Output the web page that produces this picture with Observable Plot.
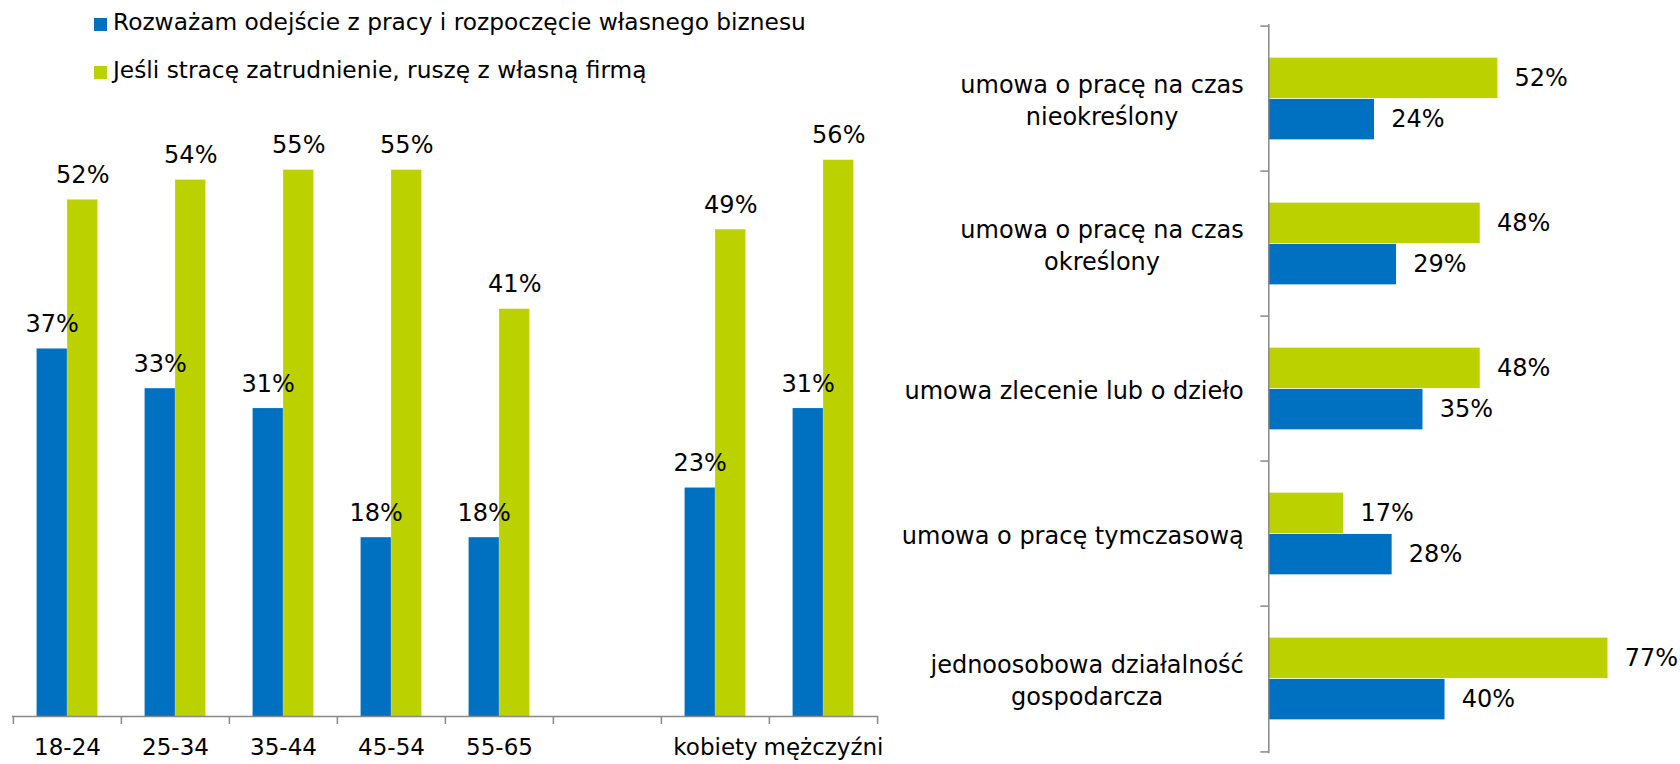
<!DOCTYPE html>
<html>
<head>
<meta charset="utf-8">
<script src="https://cdn.jsdelivr.net/npm/d3@7"></script>
<script src="https://cdn.jsdelivr.net/npm/@observablehq/plot@0.6"></script>
<style>
  html, body { margin: 0; padding: 0; background: #fff; }
  #wrap { position: relative; width: 1680px; height: 764px; overflow: hidden; font-family: "DejaVu Sans", sans-serif; }
  #left, #right { position: absolute; top: 0; }
  #left { left: 0; }
  #right { left: 880px; }
  .legend { position: absolute; left: 94px; font-size: 23.3px; color: #000; white-space: nowrap; }
  .legend .sw { display: inline-block; width: 13px; height: 13px; margin-right: 6px; vertical-align: -1px; }
</style>
</head>
<body>
<div id="wrap">
  <div id="left"></div>
  <div id="right"></div>
  <div class="legend" style="top:8px"><span class="sw" style="background:#0070C0"></span>Rozważam odejście z pracy i rozpoczęcie własnego biznesu</div>
  <div class="legend" style="top:56px"><span class="sw" style="background:#BBD100"></span>Jeśli stracę zatrudnienie, ruszę z własną firmą</div>
</div>
<script>
// ---- data ----
const seriesNames = ["Rozważam odejście z pracy i rozpoczęcie własnego biznesu", "Jeśli stracę zatrudnienie, ruszę z własną firmą"];
const ageCats = ["18-24", "25-34", "35-44", "45-54", "55-65", "", "kobiety", "mężczyźni"];
const ageBlue = [37, 33, 31, 18, 18, null, 23, 31];
const ageGreen = [52, 54, 55, 55, 41, null, 49, 56];
const contractCats = [
  "umowa o pracę na czas\nnieokreślony",
  "umowa o pracę na czas\nokreślony",
  "umowa zlecenie lub o dzieło",
  "umowa o pracę tymczasową",
  "jednoosobowa działalność\ngospodarcza"
];
const contractGreen = [52, 48, 48, 17, 77];
const contractBlue = [24, 29, 35, 28, 40];

const BLUE = "#0070C0", GREEN = "#BBD100", GREY = "#898989";
const FONT = "DejaVu Sans";

// ---- left chart ----
const L = {width: 880, height: 764, ml: 12, mr: 2, mt: 120, mb: 48};
const lbw = (L.width - L.ml - L.mr) / ageCats.length;
const barW = lbw * 0.282;
const pairOff = (lbw - 2 * barW) / 2;
const leftData = ageCats.map((c, i) => ({cat: c, blue: ageBlue[i], green: ageGreen[i]})).filter(d => d.blue != null);
const fmt = v => v + "%";

const left = Plot.plot({
  width: L.width, height: L.height,
  marginLeft: L.ml, marginRight: L.mr, marginTop: L.mt, marginBottom: L.mb,
  style: {fontFamily: FONT, fontSize: "24px", overflow: "visible", background: "transparent"},
  x: {domain: ageCats, padding: 0, axis: null, label: null},
  y: {domain: [0, 60], axis: null},
  marks: [
    Plot.barY(leftData, {x: "cat", y: "blue", fill: BLUE, insetLeft: pairOff, insetRight: lbw - pairOff - barW}),
    Plot.barY(leftData, {x: "cat", y: "green", fill: GREEN, insetLeft: lbw - pairOff - barW, insetRight: pairOff}),
    Plot.text(leftData, {x: "cat", y: "blue", text: d => fmt(d.blue), dx: -barW / 2, dy: -17, lineAnchor: "bottom", fontSize: 24, fill: "#000"}),
    Plot.text(leftData, {x: "cat", y: "green", text: d => fmt(d.green), dx: barW / 2, dy: -17, lineAnchor: "bottom", fontSize: 24, fill: "#000"}),
    Plot.ruleY([0], {stroke: GREY, strokeWidth: 1.5}),
    Plot.ruleX(ageCats, {x: d => d, dx: -lbw / 2, y1: 0, y2: 0, insetBottom: -8, stroke: GREY, strokeWidth: 1.5}),
    Plot.ruleX(ageCats.slice(-1), {x: d => d, dx: lbw / 2, y1: 0, y2: 0, insetBottom: -8, stroke: GREY, strokeWidth: 1.5}),
    Plot.axisX({domain: ageCats, label: null, tickSize: 0, tickPadding: 22, fontSize: 23, fill: "#000"})
  ]
});
document.getElementById("left").appendChild(left);

// ---- right chart ----
const R = {width: 800, height: 764, ml: 388.3, mr: 59.3, mt: 24, mb: 10.7};
const rbw = (R.height - R.mt - R.mb) / contractCats.length;
const barH = rbw * 0.283;
const rOff = (rbw - 2 * barH) / 2;
const rightData = contractCats.map((c, i) => ({cat: c, green: contractGreen[i], blue: contractBlue[i]}));

const ctx = document.createElement("canvas").getContext("2d");
ctx.font = `24px "${FONT}"`;
const labelMarks = contractCats.map(c => {
  const w = d3.max(c.split("\n"), s => ctx.measureText(s).width);
  return Plot.text([c], {x: () => 0, y: d => d, text: d => d, dx: -(25 + w / 2), textAnchor: "middle", lineHeight: 1.33, fontSize: 24, fill: "#000"});
});

const right = Plot.plot({
  width: R.width, height: R.height,
  marginLeft: R.ml, marginRight: R.mr, marginTop: R.mt, marginBottom: R.mb,
  style: {fontFamily: FONT, fontSize: "24px", overflow: "visible", background: "transparent"},
  y: {domain: contractCats, padding: 0, axis: null, label: null},
  x: {domain: [0, 80], axis: null, label: null},
  marks: [
    Plot.barX(rightData, {y: "cat", x: "green", fill: GREEN, insetTop: rOff, insetBottom: rbw - rOff - barH}),
    Plot.barX(rightData, {y: "cat", x: "blue", fill: BLUE, insetTop: rbw - rOff - barH, insetBottom: rOff}),
    Plot.text(rightData, {y: "cat", x: "green", text: d => fmt(d.green), dx: 16.7, dy: -barH / 2, textAnchor: "start", fontSize: 24, fill: "#000"}),
    Plot.text(rightData, {y: "cat", x: "blue", text: d => fmt(d.blue), dx: 16.7, dy: barH / 2, textAnchor: "start", fontSize: 24, fill: "#000"}),
    Plot.ruleX([0], {stroke: GREY, strokeWidth: 1.5}),
    Plot.ruleY(contractCats, {y: d => d, dy: -rbw / 2, x1: 0, x2: 0, insetLeft: -8, stroke: GREY, strokeWidth: 1.5}),
    Plot.ruleY(contractCats.slice(-1), {y: d => d, dy: rbw / 2, x1: 0, x2: 0, insetLeft: -8, stroke: GREY, strokeWidth: 1.5}),
    ...labelMarks
  ]
});
document.getElementById("right").appendChild(right);
</script>
</body>
</html>
